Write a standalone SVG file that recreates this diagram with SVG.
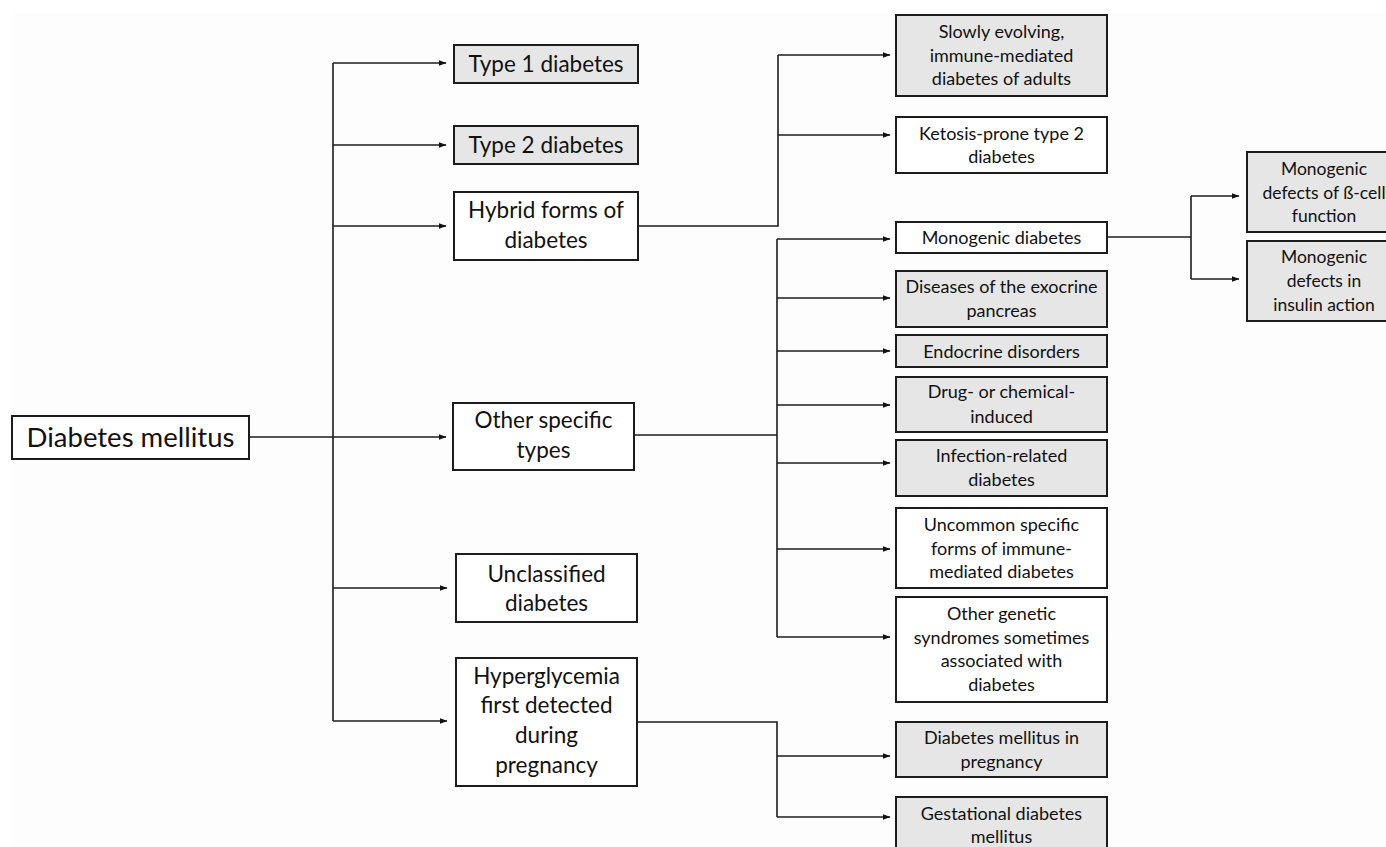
<svg xmlns="http://www.w3.org/2000/svg" width="1386" height="847" viewBox="0 0 1386 847">
<defs>
<marker id="arr" markerUnits="userSpaceOnUse" markerWidth="8" markerHeight="6" refX="7.5" refY="3" orient="auto">
<path d="M0,0 L8,3 L0,6 z" fill="#111"/>
</marker>
<style>
.box{stroke:#1c1c1c;stroke-width:2}
.w{fill:#ffffff}
.g{fill:#e6e6e6}
text{font-family:Lato,"Liberation Sans",sans-serif;fill:#111;text-anchor:middle}
.t0{font-size:27.5px}
.t1{font-size:22.5px}
.t2{font-size:18px}
.t3{font-size:17.5px}
.c{fill:none;stroke:#1c1c1c;stroke-width:1.6}
.a{marker-end:url(#arr)}
</style>
</defs>
<rect x="0" y="0" width="1386" height="847" fill="#ffffff"/>
<rect x="12" y="14" width="1374" height="833" fill="#fdfdfd"/>

<g id="connectors">
<path class="c a" d="M249,437 H446"/>
<path class="c" d="M333,63 V721"/>
<path class="c a" d="M333,63 H446"/>
<path class="c a" d="M333,145 H446"/>
<path class="c a" d="M333,226 H446"/>
<path class="c a" d="M333,588 H447"/>
<path class="c a" d="M333,721 H447"/>
<path class="c" d="M638,226 H778 V55"/>
<path class="c a" d="M778,55 H890"/>
<path class="c a" d="M778,135 H890"/>
<path class="c" d="M634,435 H777"/>
<path class="c" d="M777,239 V637"/>
<path class="c a" d="M777,239 H890"/>
<path class="c a" d="M777,298 H890"/>
<path class="c a" d="M777,351 H890"/>
<path class="c a" d="M777,405 H890"/>
<path class="c a" d="M777,463 H890"/>
<path class="c a" d="M777,549 H890"/>
<path class="c a" d="M777,637 H890"/>
<path class="c" d="M1107,237 H1191"/>
<path class="c" d="M1191,196 V279"/>
<path class="c a" d="M1191,196 H1239"/>
<path class="c a" d="M1191,279 H1239"/>
<path class="c" d="M637,722 H777 V817"/>
<path class="c a" d="M777,756 H890"/>
<path class="c a" d="M777,817 H890"/>
</g>

<g id="n-dm"><rect class="box w" x="12" y="416" width="237" height="43"/><text class="t0" x="130.5" y="447">Diabetes mellitus</text></g>
<g id="n-t1"><rect class="box g" x="454" y="45" width="184" height="38"/><text class="t1" x="546" y="72">Type 1 diabetes</text></g>
<g id="n-t2"><rect class="box g" x="454" y="126" width="184" height="38"/><text class="t1" x="546" y="153">Type 2 diabetes</text></g>
<g id="n-hybrid"><rect class="box w" x="454" y="192" width="184" height="68"/><text class="t1" x="546" y="218">Hybrid forms of</text><text class="t1" x="546" y="248">diabetes</text></g>
<g id="n-other"><rect class="box w" x="453" y="403" width="181" height="67"/><text class="t1" x="543.5" y="428">Other specific</text><text class="t1" x="543.5" y="458">types</text></g>
<g id="n-uncl"><rect class="box w" x="456" y="554" width="181" height="68"/><text class="t1" x="546.5" y="582">Unclassified</text><text class="t1" x="546.5" y="611">diabetes</text></g>
<g id="n-hyper"><rect class="box w" x="456" y="658" width="181" height="128"/><text class="t1" x="546.5" y="684">Hyperglycemia</text><text class="t1" x="546.5" y="713">first detected</text><text class="t1" x="546.5" y="743">during</text><text class="t1" x="546.5" y="773">pregnancy</text></g>

<g id="n-slowly"><rect class="box g" x="896" y="15" width="211" height="81"/><text class="t2" x="1001.5" y="38">Slowly evolving,</text><text class="t2" x="1001.5" y="62">immune-mediated</text><text class="t2" x="1001.5" y="85">diabetes of adults</text></g>
<g id="n-ketosis"><rect class="box w" x="896" y="117" width="211" height="56"/><text class="t2" x="1001.5" y="140">Ketosis-prone type 2</text><text class="t2" x="1001.5" y="163">diabetes</text></g>
<g id="n-mono"><rect class="box w" x="896" y="222" width="211" height="31"/><text class="t2" x="1001.5" y="244">Monogenic diabetes</text></g>
<g id="n-exo"><rect class="box g" x="896" y="271" width="211" height="56"/><text class="t2" x="1001.5" y="293">Diseases of the exocrine</text><text class="t2" x="1001.5" y="317">pancreas</text></g>
<g id="n-endo"><rect class="box g" x="896" y="335" width="211" height="32"/><text class="t2" x="1001.5" y="358">Endocrine disorders</text></g>
<g id="n-drug"><rect class="box g" x="896" y="377" width="211" height="55"/><text class="t2" x="1001.5" y="398">Drug- or chemical-</text><text class="t2" x="1001.5" y="423">induced</text></g>
<g id="n-infect"><rect class="box g" x="896" y="440" width="211" height="56"/><text class="t2" x="1001.5" y="462">Infection-related</text><text class="t2" x="1001.5" y="486">diabetes</text></g>
<g id="n-uncommon"><rect class="box w" x="896" y="508" width="211" height="80"/><text class="t2" x="1001.5" y="531">Uncommon specific</text><text class="t2" x="1001.5" y="555">forms of immune-</text><text class="t2" x="1001.5" y="578">mediated diabetes</text></g>
<g id="n-genetic"><rect class="box w" x="896" y="597" width="211" height="105"/><text class="t2" x="1001.5" y="620">Other genetic</text><text class="t2" x="1001.5" y="644">syndromes sometimes</text><text class="t2" x="1001.5" y="667">associated with</text><text class="t2" x="1001.5" y="691">diabetes</text></g>
<g id="n-dmp"><rect class="box g" x="896" y="722" width="211" height="55"/><text class="t2" x="1001.5" y="744">Diabetes mellitus in</text><text class="t2" x="1001.5" y="768">pregnancy</text></g>
<g id="n-gdm"><rect class="box g" x="896" y="797" width="211" height="60"/><text class="t2" x="1001.5" y="820">Gestational diabetes</text><text class="t2" x="1001.5" y="843">mellitus</text></g>

<g id="n-beta"><rect class="box g" x="1247" y="152" width="155" height="80"/><text class="t3" x="1324" y="175">Monogenic</text><text class="t3" x="1324" y="199">defects of ß-cell</text><text class="t3" x="1324" y="222">function</text></g>
<g id="n-insulin"><rect class="box g" x="1247" y="241" width="155" height="80"/><text class="t3" x="1324" y="263">Monogenic</text><text class="t3" x="1324" y="287">defects in</text><text class="t3" x="1324" y="311">insulin action</text></g>
</svg>
